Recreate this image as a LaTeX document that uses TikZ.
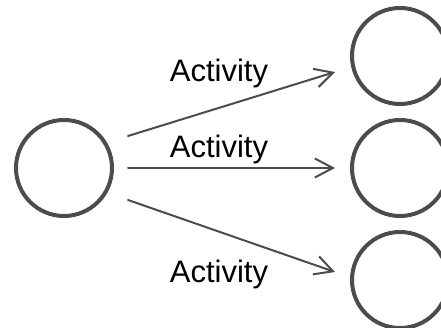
\documentclass[tikz,border=0pt]{standalone}
\usepackage{fontspec}
\setmainfont{Liberation Sans}
\usetikzlibrary{arrows.meta}

\begin{document}
\begin{tikzpicture}[x=1pt, y=-1pt,
                    line cap=round, line join=round,
                    state/.style={circle, draw=black!70, line width=4pt,
                                  minimum size=96pt, inner sep=0pt, outer sep=0pt},
                    flow/.style={draw=black!70, line width=2pt,
                                 -{Straight Barb[length=18pt,width=19pt]}},
                    lbl/.style={anchor=base, inner sep=0pt,
                                font=\fontsize{31}{37}\selectfont}]
  \useasboundingbox (0,0) rectangle (441,328);

  % states
  \node[state] (src) at (64,168) {};
  \node[state] (top) at (400,56) {};
  \node[state] (mid) at (400,168) {};
  \node[state] (bot) at (400,280) {};

  % activities
  \draw[flow] ([shift={(16,-32)}]src.east) -- ([shift={(-17,16)}]top.west);
  \draw[flow] ([shift={(16,0)}]src.east) -- ([shift={(-17,0)}]mid.west);
  \draw[flow] ([shift={(16,32)}]src.east) -- ([shift={(-17,-8)}]bot.west);

  % labels
  \node[lbl] (a1) at (219,82) {Activity};
  \node[lbl] (a2) at (219,158) {Activity};
  \node[lbl] (a3) at (219,282) {Activity};
\end{tikzpicture}
\end{document}
